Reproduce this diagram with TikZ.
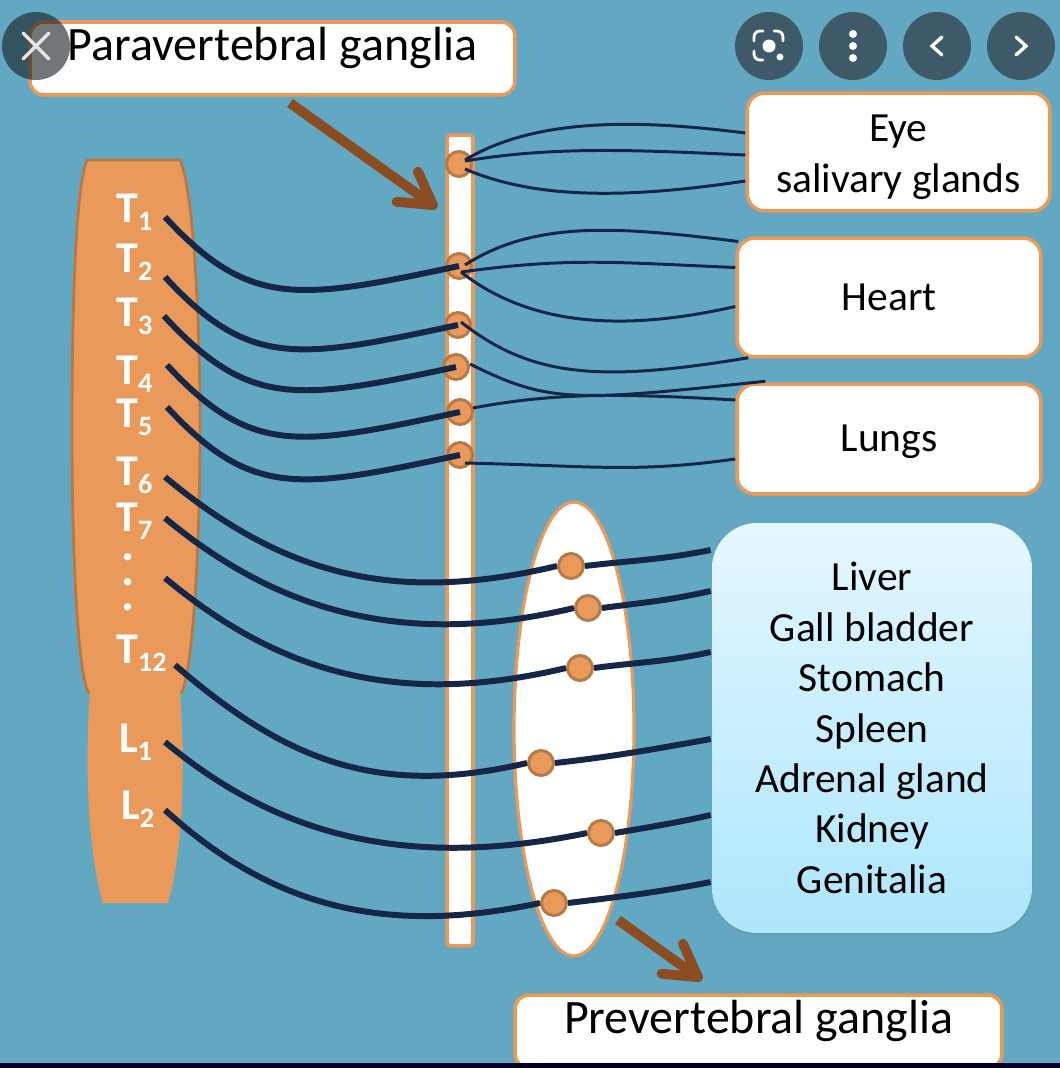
\documentclass[tikz,border=0pt]{standalone}
\usepackage{xcolor}
\usepackage{fontspec}
\setmainfont{Carlito}
\usepackage{tikz}
\usetikzlibrary{shapes.geometric,arrows.meta,shadows}
\definecolor{skyBack}{RGB}{99, 168, 195}
\definecolor{cordOrange}{RGB}{233, 153, 90}
\definecolor{cordEdge}{RGB}{181, 122, 70}
\definecolor{fibreNavy}{RGB}{22, 38, 70}
\definecolor{arrowBrown}{RGB}{138, 76, 32}
\definecolor{buttonSlate}{RGB}{62, 90, 104}
\definecolor{organTop}{RGB}{228, 247, 255}
\definecolor{organBottom}{RGB}{173, 230, 252}
\newcommand{\seg}[2]{\textbf{#1\raisebox{-5pt}{\fontsize{16}{16}\selectfont #2}}}

\begin{document}
\begin{tikzpicture}[x=0.02cm, y=-0.02cm]
    \tikzstyle{labelbox} = [rectangle, draw=cordOrange, fill=white, line width=2pt, rounded corners=0.36cm, inner sep=0pt, text=black, align=center, font=\fontsize{23.6}{28.7}\selectfont]
    \tikzstyle{titlebox} = [labelbox, rounded corners=0.28cm, font=\fontsize{27.3}{30}\selectfont]
    \tikzstyle{ganglion} = [circle, draw=cordEdge, fill=cordOrange, line width=1.7pt, minimum size=0.5cm, inner sep=0pt]
    \tikzstyle{seglabel} = [anchor=base west, inner sep=0pt, text=white, font=\fontsize{25}{25}\selectfont]
    \tikzstyle{fibre} = [draw=fibreNavy, line width=3.4pt]
    \tikzstyle{thinfibre} = [draw=fibreNavy, line width=1.7pt]
    \tikzstyle{pointer} = [draw=arrowBrown, line width=5.6pt, -{Straight Barb[round, length=18pt, width=21pt, line width=5.6pt]}]
    \tikzstyle{uibutton} = [circle, fill=buttonSlate, minimum size=1.36cm, inner sep=0pt]
    \tikzstyle{uimark} = [draw=white, line width=1.6pt, line cap=round]

    \fill [skyBack] (0,0) rectangle (1060,1068);
    \useasboundingbox (0,0) rectangle (1060,1068);

    \draw [fill=cordOrange, draw=cordEdge, line width=1.6pt] (87,160) -- (180,160) .. controls (192,185) and (200,300) .. (200,430) .. controls (200,560) and (192,670) .. (182,692) -- (88,692) .. controls (78,670) and (72,560) .. (72,430) .. controls (72,300) and (76,185) .. (87,160) -- cycle;
    \fill [cordOrange] (90,690) -- (180,690) .. controls (184,750) and (186,840) .. (168,903) -- (103,903) .. controls (85,840) and (86,750) .. (90,690) -- cycle;

    \node [rectangle, draw=cordOrange, fill=white, line width=2pt, rounded corners=0.08cm, minimum width=0.52cm, minimum height=16.22cm] (chain) at (460,540.5) {};
    \node [ellipse, draw=cordOrange, fill=white, line width=1.8pt, minimum width=2.4cm, minimum height=9.08cm, inner sep=0pt] (plexus) at (574,729) {};

    \node [ganglion] (pg1) at (459,164) {};
    \node [ganglion] (pg2) at (459,266) {};
    \node [ganglion] (pg3) at (458,325) {};
    \node [ganglion] (pg4) at (456,367) {};
    \node [ganglion] (pg5) at (460,412) {};
    \node [ganglion] (pg6) at (460,455) {};

    \node [titlebox, minimum width=9.7cm, minimum height=1.46cm] (paralabel) at (272.5,58.5) {\smash{\raisebox{-1pt}{Paravertebral ganglia}}};
    \node [titlebox, minimum width=9.74cm, minimum height=1.46cm] (prelabel) at (758.5,1031.5) {\smash{\raisebox{-1pt}{Prevertebral ganglia}}};
    \node [labelbox, minimum width=6.06cm, minimum height=2.36cm] (eye) at (898.5,152) {\rule{0pt}{21pt}Eye\\salivary glands};
    \node [labelbox, minimum width=6.08cm, minimum height=2.38cm] (heart) at (889,297.5) {\smash{\raisebox{-7.5pt}{Heart}}};
    \node [labelbox, minimum width=6.08cm, minimum height=2.2cm] (lungs) at (889,439) {\smash{\raisebox{-7pt}{Lungs}}};
    \node [rectangle, rounded corners=0.9cm, top color=organTop, bottom color=organBottom, drop shadow={shadow xshift=0.3pt, shadow yshift=-1.2pt, opacity=0.3}, minimum width=6.4cm, minimum height=8.2cm, inner sep=0pt, align=center, font=\fontsize{23.6}{28.7}\selectfont] (organs) at (872,728) {Liver\\Gall bladder\\Stomach\\Spleen\\Adrenal gland\\Kidney\\Genitalia};

    \node [seglabel] (T1) at (116,222) {\seg{T}{1}};
    \node [seglabel] (T2) at (116,272) {\seg{T}{2}};
    \node [seglabel] (T3) at (116,326) {\seg{T}{3}};
    \node [seglabel] (T4) at (116,384) {\seg{T}{4}};
    \node [seglabel] (T5) at (116,427) {\seg{T}{5}};
    \node [seglabel] (T6) at (116,485) {\seg{T}{6}};
    \node [seglabel] (T7) at (116,531) {\seg{T}{7}};
    \node [seglabel, font=\bfseries\fontsize{28}{14}\selectfont, align=center] (Tdots) at (121,610) {.\\.\\.};
    \node [seglabel] (T12) at (116,663) {\seg{T}{12}};
    \node [seglabel] (L1) at (119,752) {\seg{L}{1}};
    \node [seglabel] (L2) at (121,819) {\seg{L}{2}};

    \coordinate (r1) at (165,217);
    \coordinate (r2) at (165,277);
    \coordinate (r3) at (164,316);
    \coordinate (r4) at (167,365);
    \coordinate (r5) at (167,407);
    \coordinate (r6) at (165,477);
    \coordinate (r7) at (165,518);
    \coordinate (r8) at (165,578);
    \coordinate (r12) at (175,665);
    \coordinate (l1) at (165,742);
    \coordinate (l2) at (165,810);

    \path [fibre] (r1) .. controls +(85,92) and +(-160,34) .. (pg2.center);
    \path [fibre] (r2) .. controls +(85,92) and +(-160,34) .. (pg3.center);
    \path [fibre] (r3) .. controls +(85,92) and +(-160,34) .. (pg4.center);
    \path [fibre] (r4) .. controls +(85,92) and +(-160,34) .. (pg5.center);
    \path [fibre] (r5) .. controls +(85,92) and +(-160,34) .. (pg6.center);

    \path [thinfibre] ([shift={(6,-4)}]pg1.center) .. controls +(70,-42) and +(-110,-14) .. ([shift={(0,-19)}]eye.west);
    \path [thinfibre] ([shift={(6,-3)}]pg1.center) .. controls +(90,-15) and +(-110,-5) .. ([shift={(0,3)}]eye.west);
    \path [thinfibre] ([shift={(6,5)}]pg1.center) .. controls +(70,30) and +(-120,18) .. ([shift={(0,29)}]eye.west);
    \path [thinfibre] ([shift={(6,-1)}]pg2.center) .. controls +(70,-45) and +(-120,-15) .. ([shift={(3,-56)}]heart.west);
    \path [thinfibre] ([shift={(2,6)}]pg2.center) .. controls +(110,-15) and +(-120,-5) .. ([shift={(0,-30)}]heart.west);
    \path [thinfibre] ([shift={(2,6)}]pg2.center) .. controls +(70,55) and +(-110,25) .. ([shift={(0,9)}]heart.west);
    \path [thinfibre] ([shift={(3,-3)}]pg3.center) .. controls +(70,55) and +(-150,25) .. ([shift={(13,-1)}]heart.south west);
    \path [thinfibre] ([shift={(14,-3)}]pg4.center) .. controls +(80,40) and +(-190,20) .. ([shift={(30,-1)}]lungs.north west);
    \path [thinfibre] ([shift={(13,-4)}]pg5.center) .. controls +(80,-15) and +(-120,-7) .. ([shift={(0,-39)}]lungs.west);
    \path [thinfibre] ([shift={(5,8)}]pg6.center) .. controls +(130,3) and +(-100,14) .. ([shift={(0,20)}]lungs.west);

    \node [ganglion] (vg1) at (571,566) {};
    \node [ganglion] (vg2) at (588,608) {};
    \node [ganglion] (vg3) at (580,668) {};
    \node [ganglion] (vg4) at (541,763) {};
    \node [ganglion] (vg5) at (601,833) {};
    \node [ganglion] (vg6) at (554,903) {};

    \path [fibre] (r6) .. controls +(120,100) and +(-160,38) .. (vg1.west);
    \path [fibre] (r7) .. controls +(120,100) and +(-160,38) .. (vg2.west);
    \path [fibre] (r8) .. controls +(120,100) and +(-160,38) .. (vg3.west);
    \path [fibre] (r12) .. controls +(110,95) and +(-150,35) .. (vg4.west);
    \path [fibre] (l1) .. controls +(120,100) and +(-170,35) .. (vg5.west);
    \path [fibre] (l2) .. controls +(110,100) and +(-150,32) .. (vg6.west);
    \path [fibre] (vg1.east) .. controls +(50,-6) and +(-50,10) .. ([shift={(-1,-178)}]organs.west);
    \path [fibre] (vg2.east) .. controls +(45,-6) and +(-45,10) .. ([shift={(-1,-137)}]organs.west);
    \path [fibre] (vg3.east) .. controls +(45,-6) and +(-45,10) .. ([shift={(-1,-76)}]organs.west);
    \path [fibre] (vg4.east) .. controls +(55,-6) and +(-55,10) .. ([shift={(-1,11)}]organs.west);
    \path [fibre] (vg5.east) .. controls +(35,-6) and +(-35,8) .. ([shift={(-1,87)}]organs.west);
    \path [fibre] (vg6.east) .. controls +(50,-6) and +(-50,10) .. ([shift={(-1,154)}]organs.west);

    \coordinate (parastart) at (290,103);
    \coordinate (paratip) at (437,208);
    \coordinate (prestart) at (618,920);
    \coordinate (pretip) at (702,980);
    \path [pointer] (parastart) -- (paratip);
    \path [pointer] (prestart) -- (pretip);

    \node [uibutton, fill=black!70!buttonSlate, fill opacity=0.6] (closebtn) at (36,46) {};
    \node [uibutton] (lensbtn) at (769,46) {};
    \node [uibutton] (morebtn) at (853,46) {};
    \node [uibutton] (prevbtn) at (937,46) {};
    \node [uibutton] (nextbtn) at (1021,46) {};

    \path [uimark, line width=2pt, draw=white!90!black] ([shift={(-13,-13)}]closebtn.center) -- ([shift={(13,13)}]closebtn.center);
    \path [uimark, line width=2pt, draw=white!90!black] ([shift={(13,-13)}]closebtn.center) -- ([shift={(-13,13)}]closebtn.center);
    \path [uimark] ([shift={(-15,-5)}]lensbtn.center) -- ++(0,-4) arc[start angle=180, end angle=90, radius=0.12cm] -- ++(3,0);
    \path [uimark] ([shift={(5,-15)}]lensbtn.center) -- ++(3,0) arc[start angle=90, end angle=0, radius=0.12cm] -- ++(0,4);
    \path [uimark] ([shift={(-15,5)}]lensbtn.center) -- ++(0,3) arc[start angle=180, end angle=270, radius=0.12cm] -- ++(3,0);
    \fill [white] (lensbtn.center) circle (0.13cm);
    \fill [white] ([shift={(11,11)}]lensbtn.center) circle (0.07cm);
    \fill [white] ([shift={(0,-12)}]morebtn.center) circle (0.08cm);
    \fill [white] (morebtn.center) circle (0.08cm);
    \fill [white] ([shift={(0,12)}]morebtn.center) circle (0.08cm);
    \path [uimark, line width=1.9pt] ([shift={(5,-9)}]prevbtn.center) -- ([shift={(-5,0)}]prevbtn.center) -- ([shift={(5,9)}]prevbtn.center);
    \path [uimark, line width=1.9pt] ([shift={(-5,-9)}]nextbtn.center) -- ([shift={(5,0)}]nextbtn.center) -- ([shift={(-5,9)}]nextbtn.center);

    \fill [black!85!blue] (0,1063) rectangle (1060,1068);
\end{tikzpicture}
\end{document}
